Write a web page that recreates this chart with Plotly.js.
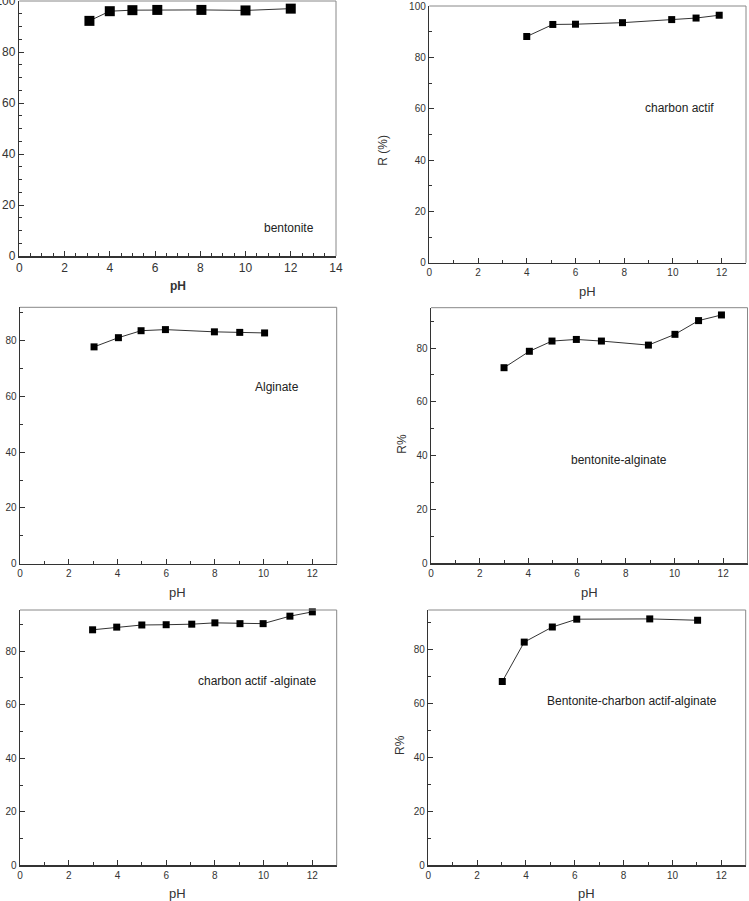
<!DOCTYPE html>
<html>
<head>
<meta charset="utf-8">
<script src="https://cdn.plot.ly/plotly-3.0.1.min.js"></script>
<style>
  html, body { margin: 0; padding: 0; background: #fff; }
  #chart { width: 749px; height: 901px; }
</style>
</head>
<body>
<div id="chart"></div>
<script>
// Removal efficiency R (%) versus pH for each adsorbent
const phBentonite = [3.1, 4, 5, 6.1, 8.05, 10, 12];
const rBentonite = [92.3, 96.1, 96.5, 96.6, 96.6, 96.4, 97.1];

const phCharbon = [4, 5.07, 6, 7.93, 9.95, 10.95, 11.9];
const rCharbon = [88.2, 92.9, 93.0, 93.6, 94.8, 95.4, 96.5];

const phAlginate = [3.04, 4.04, 4.97, 5.97, 7.98, 9.02, 10.04];
const rAlginate = [77.8, 81.1, 83.6, 84.0, 83.2, 83.0, 82.8];

const phBentAlg = [3.0, 4.04, 4.97, 5.97, 7.0, 8.93, 10.02, 10.99, 11.93];
const rBentAlg = [72.7, 78.8, 82.6, 83.2, 82.6, 81.1, 85.1, 90.2, 92.3];

const phCharbonAlg = [2.98, 3.97, 5.0, 6.0, 7.05, 8.0, 9.03, 9.98, 11.08, 12.0];
const rCharbonAlg = [88.0, 89.0, 89.8, 89.9, 90.1, 90.6, 90.3, 90.3, 93.1, 94.7];

const phBentCharbonAlg = [3.03, 3.93, 5.08, 6.08, 9.07, 11.03];
const rBentCharbonAlg = [68.1, 82.7, 88.3, 91.2, 91.3, 90.8];

const panelLabels = ['bentonite', 'charbon actif', 'Alginate', 'bentonite-alginate',
                     'charbon actif -alginate', 'Bentonite-charbon actif-alginate'];
const xTitle = 'pH';
const yTitles = ['', 'R (%)', '', 'R%', '', 'R%'];

const series = [
  [phBentonite, rBentonite],
  [phCharbon, rCharbon],
  [phAlginate, rAlginate],
  [phBentAlg, rBentAlg],
  [phCharbonAlg, rCharbonAlg],
  [phBentCharbonAlg, rBentCharbonAlg]
];

// ---- layout geometry (pixels in a 749 x 901 page) ----
const W = 749, H = 901;
const panels = [
  { px: [19.3, 336], py: [1, 256],       xr: [0, 14], yr: [0, 100.1], big: true,
    label: [289.3, 228.3], xt: [178, 286], yt: null },
  { px: [429.3, 746], py: [6, 262.7],    xr: [0, 13], yr: [0, 100.1],
    label: [679.3, 107.7], xt: [587.5, 291.5], yt: [382.7, 150] },
  { px: [20, 336.7], py: [307.3, 563.7], xr: [0, 13], yr: [0, 92],
    label: [276.7, 387.3], xt: [177.7, 592.7], yt: null },
  { px: [431, 747.5], py: [307.7, 563.3], xr: [0, 13], yr: [0, 95],
    label: [619.3, 460], xt: [589.3, 592.7], yt: [401.7, 444] },
  { px: [20, 336.7], py: [610, 865.3],   xr: [0, 13], yr: [0, 95.4],
    label: [256.7, 680.7], xt: [177.7, 893.5], yt: null },
  { px: [428.3, 745.7], py: [610, 865.3], xr: [0, 13], yr: [0, 94.6],
    label: [631.7, 700.7], xt: [586.7, 893.5], yt: [400, 745] }
];

const fx = p => p / W;
const fy = p => 1 - p / H;
const FONT = 'Liberation Sans, Arial, sans-serif';

const data = [];
const layout = {
  width: W, height: H,
  margin: { l: 0, r: 0, t: 0, b: 0 },
  paper_bgcolor: '#fff', plot_bgcolor: '#fff',
  showlegend: false,
  font: { family: FONT, color: '#333' },
  annotations: [],
  shapes: []
};

panels.forEach((p, i) => {
  const n = i + 1;
  const xa = 'x' + (n === 1 ? '' : n);
  const ya = 'y' + (n === 1 ? '' : n);
  const xKey = 'xaxis' + (n === 1 ? '' : n);
  const yKey = 'yaxis' + (n === 1 ? '' : n);

  data.push({
    x: series[i][0], y: series[i][1],
    xaxis: xa, yaxis: ya,
    type: 'scatter', mode: 'lines+markers',
    cliponaxis: false,
    line: { color: '#333', width: 1 },
    marker: { symbol: 'square', size: p.big ? 10 : 7, color: '#000' }
  });

  const tickFont = { family: FONT, size: p.big ? 12 : 10, color: '#333' };
  layout[xKey] = {
    domain: [fx(p.px[0]), fx(p.px[1])],
    anchor: ya, range: p.xr, dtick: 2, tick0: 0,
    showgrid: false, zeroline: false,
    showline: true, linecolor: '#333', linewidth: 1.5,
    ticks: 'inside', ticklen: 5, tickwidth: 1, tickcolor: '#333',
    minor: { dtick: p.big ? 0.5 : 1, ticks: 'inside', ticklen: 3, tickcolor: '#333', showgrid: false },
    tickfont: tickFont, ticklabeloverflow: 'allow', fixedrange: true
  };
  layout[yKey] = {
    domain: [fy(p.py[1]), fy(p.py[0])],
    anchor: xa, range: p.yr, dtick: 20, tick0: 0,
    showgrid: false, zeroline: false,
    showline: true, linecolor: '#333', linewidth: 1.5,
    ticks: 'inside', ticklen: 5, tickwidth: 1, tickcolor: '#333',
    minor: { dtick: p.big ? 5 : 10, ticks: 'inside', ticklen: 3, tickcolor: '#333', showgrid: false },
    tickfont: tickFont, ticklabeloverflow: 'allow', fixedrange: true
  };

  // top and right frame edges
  layout.shapes.push({
    type: 'path', xref: xa + ' domain', yref: ya + ' domain',
    path: 'M 0 1 L 1 1 L 1 0',
    line: { color: '#888', width: 1 }
  });

  // material label inside the plot
  layout.annotations.push({
    text: panelLabels[i], xref: 'paper', yref: 'paper',
    x: fx(p.label[0]), y: fy(p.label[1]), xanchor: 'center', yanchor: 'middle',
    showarrow: false, font: { family: FONT, size: 12, color: '#222' }
  });

  // axis titles
  layout.annotations.push({
    text: p.big ? '<b>' + xTitle + '</b>' : xTitle, xref: 'paper', yref: 'paper',
    x: fx(p.xt[0]), y: fy(p.xt[1]), xanchor: 'center', yanchor: 'middle',
    showarrow: false, font: { family: FONT, size: p.big ? 12 : 13, color: '#333' }
  });
  if (p.yt) {
    layout.annotations.push({
      text: yTitles[i], xref: 'paper', yref: 'paper',
      x: fx(p.yt[0]), y: fy(p.yt[1]), xanchor: 'center', yanchor: 'middle',
      textangle: -90, showarrow: false, font: { family: FONT, size: 12, color: '#333' }
    });
  }
});

Plotly.newPlot('chart', data, layout, { displayModeBar: false, staticPlot: true });
</script>
</body>
</html>
